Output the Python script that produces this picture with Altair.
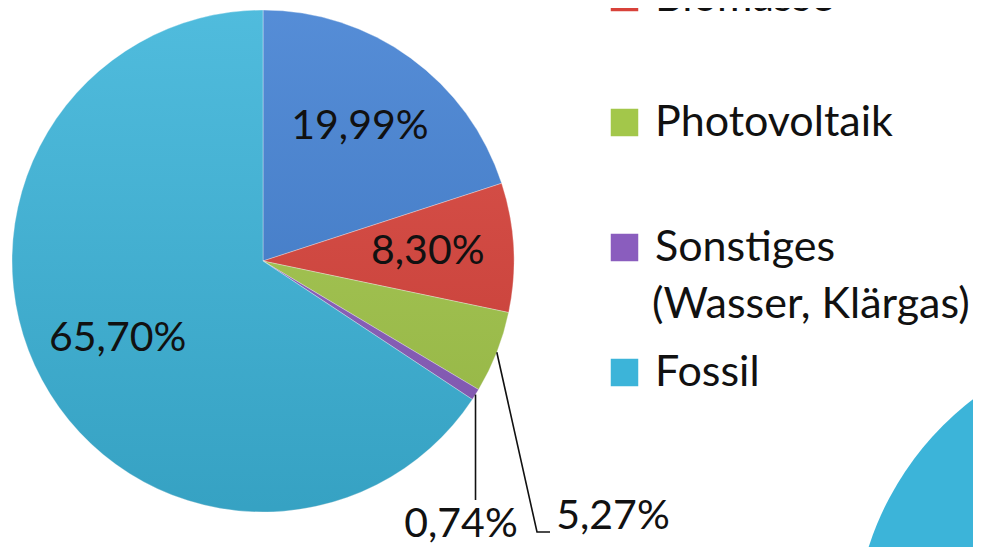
import math
import altair as alt
import pandas as pd

# ---- data -------------------------------------------------------------
categories = ["Windkraft", "Biomasse", "Photovoltaik",
              "Sonstiges (Wasser, Klärgas)", "Fossil"]
shares = [19.99, 8.30, 5.27, 0.74, 65.70]
colors = ["#4280D2", "#D8423A", "#A3C74A", "#8A5DBE", "#3CB4D9"]

# second (cut-off) pie in the lower right corner: only its fossil part shows
second_categories = ["Fossil"]
second_shares = [100.0]

# ---- layout -----------------------------------------------------------
W, H = 965, 539
CX, CY, R = 255, 253, 251          # main pie centre / radius (px)
CX2, CY2, R2 = 1149, 632, 303      # second pie
LABEL_R = 165
inside_label = {"Windkraft": True, "Biomasse": True, "Photovoltaik": False,
                "Sonstiges (Wasser, Klärgas)": False, "Fossil": True}
# outside label text centres and leader-line elbows (px)
outside_text_pos = {"Photovoltaik": (605, 509), "Sonstiges (Wasser, Klärgas)": (453, 517)}
leader_path = {"Photovoltaik": [(529, 524), (542, 524)],
               "Sonstiges (Wasser, Klärgas)": [None]}  # None -> straight down
LEGEND_X, LEGEND_Y = 595, -157
LEGEND_FONT_SIZE = 43
SECOND_LINE_POS = (644, 297)
FONT = "Lato"


def fmt(v):
    return f"{v:.2f}".replace(".", ",") + "%"


df = pd.DataFrame({
    "category": categories,
    "share": shares,
    "idx": list(range(len(categories))),
})
df["inside_label"] = [fmt(v) if inside_label[c] else "" for c, v in zip(categories, shares)]

# outside labels and leader lines computed from the cumulative shares
total = sum(shares)
cum = 0.0
mid_angle = {}
for c, v in zip(categories, shares):
    mid_angle[c] = 2 * math.pi * (cum + v / 2) / total
    cum += v

out_rows, line_rows = [], []
for c, v in zip(categories, shares):
    if inside_label[c]:
        continue
    tx, ty = outside_text_pos[c]
    out_rows.append({"category": c, "label": fmt(v), "px": tx, "py": ty})
    a = mid_angle[c]
    sx, sy = CX + R * math.sin(a), CY - R * math.cos(a)
    pts = [(sx, sy)]
    for p in leader_path[c]:
        pts.append((sx, 492) if p is None else p)
    for k, (x, y) in enumerate(pts):
        line_rows.append({"category": c, "step": k, "px": x, "py": y})
out_df = pd.DataFrame(out_rows)
line_df = pd.DataFrame(line_rows)

# legend label second line for the long category name
long_names = [c for c in categories if " (" in c]
second_line_df = pd.DataFrame({
    "text": ["(" + c.split(" (", 1)[1] for c in long_names],
})

df2 = pd.DataFrame({"category": second_categories, "share": second_shares})

color_scale = alt.Scale(domain=categories, range=colors)

legend = alt.Legend(
    title=None, orient="none", legendX=LEGEND_X, legendY=LEGEND_Y,
    symbolType="square", symbolSize=756, symbolStrokeWidth=0,
    labelFont=FONT, labelFontSize=LEGEND_FONT_SIZE, labelColor="#111111", labelLimit=1000,
    labelOffset=9, rowPadding=81, padding=0,
    labelExpr="split(datum.label, ' (')[0]",
)

base = alt.Chart(df).encode(
    theta=alt.Theta("share:Q", stack=True),
    order=alt.Order("idx:Q"),
)

pie = base.mark_arc(outerRadius=R, stroke="#ffffff", strokeWidth=1, strokeOpacity=0.35).encode(
    color=alt.Color("category:N", scale=color_scale, legend=legend),
    x=alt.value(CX), y=alt.value(CY),
)

second = alt.Chart(df2).mark_arc(outerRadius=R2).encode(
    theta=alt.Theta("share:Q", stack=True),
    color=alt.Color("category:N", scale=color_scale, legend=legend),
    x=alt.value(CX2), y=alt.value(CY2),
)

shade = alt.Chart(pd.DataFrame({"k": [0]})).mark_arc(
    outerRadius=R, theta=0, theta2=6.2832,
    fill=alt.Gradient(gradient="linear", x1=0, y1=0, x2=0, y2=1,
                      stops=[alt.GradientStop(color="rgba(255,255,255,0.10)", offset=0),
                             alt.GradientStop(color="rgba(0,0,0,0.10)", offset=1)]),
).encode(x=alt.value(CX), y=alt.value(CY))

inner_text = base.mark_text(radius=LABEL_R, font=FONT, fontSize=41, color="#111111").encode(
    detail="category:N",
    text="inside_label:N",
    x=alt.value(CX), y=alt.value(CY),
)

outer_text = alt.Chart(out_df).mark_text(font=FONT, fontSize=41, color="#111111").encode(
    x=alt.X("px:Q", scale=None), y=alt.Y("py:Q", scale=None), text="label:N",
)

leaders = alt.Chart(line_df).mark_line(color="#111111", strokeWidth=1.6).encode(
    x=alt.X("px:Q", scale=None), y=alt.Y("py:Q", scale=None),
    detail="category:N", order="step:Q",
)

legend_line2 = alt.Chart(second_line_df).mark_text(
    font=FONT, fontSize=LEGEND_FONT_SIZE, color="#111111", align="left", baseline="middle",
).encode(x=alt.value(SECOND_LINE_POS[0]), y=alt.value(SECOND_LINE_POS[1]), text="text:N")

chart = alt.layer(second, pie, shade, inner_text, outer_text, leaders, legend_line2).properties(
    width=W, height=H, padding=0,
    autosize=alt.AutoSizeParams(type="none"),
).configure_view(stroke=None)

chart.save("out.html", embed_options={"renderer": "svg", "actions": False})
